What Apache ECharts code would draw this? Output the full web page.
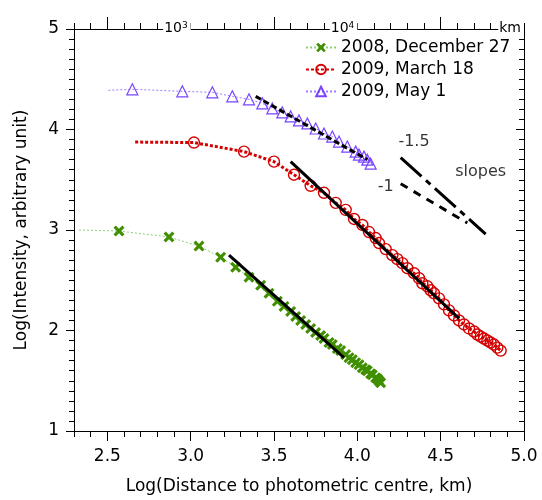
<!DOCTYPE html>
<html>
<head>
<meta charset="utf-8">
<script src="https://cdn.jsdelivr.net/npm/echarts@6/dist/echarts.min.js"></script>
<style>
html, body { margin: 0; padding: 0; background: #fff; }
#chart { width: 542px; height: 500px; }
</style>
</head>
<body>
<div id="chart"></div>
<script>
// series names
const names = ['2008, December 27', '2009, March 18', '2009, May 1'];

// 2008, December 27 (green crosses)
const dec27Lead = [2.33, 3.0];
const dec27X = [2.57, 2.87, 3.05, 3.18, 3.27, 3.35, 3.42, 3.47, 3.52, 3.56, 3.60, 3.63, 3.66, 3.69, 3.72, 3.75, 3.78, 3.80, 3.83, 3.85, 3.88, 3.90, 3.93, 3.95, 3.97, 3.99, 4.01, 4.03, 4.05, 4.06, 4.08, 4.09, 4.11, 4.12, 4.13, 4.14];
const dec27Y = [2.99, 2.93, 2.84, 2.73, 2.63, 2.53, 2.45, 2.37, 2.29, 2.24, 2.19, 2.14, 2.10, 2.06, 2.02, 1.98, 1.95, 1.92, 1.88, 1.86, 1.82, 1.80, 1.76, 1.73, 1.71, 1.68, 1.66, 1.63, 1.61, 1.60, 1.57, 1.56, 1.53, 1.52, 1.50, 1.48];

// 2009, March 18 (red circles)
const mar18Lead = [2.667, 3.875];
const mar18X = [3.02, 3.32, 3.50, 3.62, 3.72, 3.80, 3.87, 3.93, 3.98, 4.03, 4.07, 4.11, 4.13, 4.17, 4.21, 4.24, 4.27, 4.30, 4.34, 4.37, 4.39, 4.42, 4.44, 4.46, 4.49, 4.52, 4.55, 4.58, 4.61, 4.64, 4.67, 4.70, 4.72, 4.74, 4.76, 4.78, 4.80, 4.82, 4.84, 4.86];
const mar18Y = [3.87, 3.78, 3.68, 3.55, 3.44, 3.37, 3.27, 3.20, 3.11, 3.05, 2.98, 2.92, 2.87, 2.81, 2.75, 2.71, 2.67, 2.62, 2.57, 2.52, 2.47, 2.44, 2.40, 2.37, 2.32, 2.26, 2.20, 2.15, 2.10, 2.06, 2.02, 1.99, 1.96, 1.94, 1.92, 1.90, 1.88, 1.86, 1.83, 1.80];

// 2009, May 1 (purple triangles)
const may1Lead = [2.506, 4.39];
const may1X = [2.65, 2.95, 3.13, 3.25, 3.35, 3.43, 3.49, 3.55, 3.60, 3.65, 3.70, 3.75, 3.80, 3.85, 3.89, 3.94, 3.99, 4.01, 4.04, 4.06, 4.08];
const may1Y = [4.40, 4.38, 4.37, 4.33, 4.30, 4.26, 4.21, 4.17, 4.13, 4.09, 4.06, 4.01, 3.96, 3.93, 3.88, 3.83, 3.78, 3.75, 3.73, 3.70, 3.66];

// fitted slopes (black lines)
const fitDec27X = [3.23, 3.92], fitDec27Y = [2.75, 1.73];
const fitMar18X = [3.60, 4.61], fitMar18Y = [3.68, 2.12];
const fitMay1X = [3.39, 4.06], fitMay1Y = [4.33, 3.70];
const slope15X = [4.26, 4.77], slope15Y = [3.72, 2.96];
const slope1X = [4.26, 4.66], slope1Y = [3.46, 3.07];

// slope annotations
const noteText = ['-1.5', '-1', 'slopes'];
const noteX = [4.34, 4.17, 4.74];
const noteY = [3.88, 3.43, 3.58];

// tick labels
const xTicks = [2.5, 3.0, 3.5, 4.0, 4.5, 5.0];
const topMajor = [2.5, 3.5, 4.5];
const topLabelAt = [3, 4, 5];
const topLabelText = ['10{s|3}', '10{s|4}', 'km'];

const font = 'DejaVu Sans';
const zip = (xs, ys) => xs.map((x, i) => [x, ys[i]]);
const withLead = (lead, xs, ys) => [{ value: lead, symbol: 'none' }].concat(zip(xs, ys));
const crossPath = 'path://M2,0 L5,3 L8,0 L10,2 L7,5 L10,8 L8,10 L5,7 L2,10 L0,8 L3,5 L0,2 Z';

const fitLine = (xs, ys, type) => ({
    type: 'line',
    data: zip(xs, ys),
    symbol: 'none',
    z: 5,
    lineStyle: { color: '#000', width: 3, type: type },
    emphasis: { disabled: true },
    silent: true
});

const chart = echarts.init(document.getElementById('chart'));
const option = {
    animation: false,
    backgroundColor: '#fff',
    textStyle: { fontFamily: font },
    grid: { left: 74, right: 18, top: 29, bottom: 67 },
    legend: {
        data: names,
        orient: 'vertical',
        left: 300,
        top: 33,
        itemWidth: 30,
        itemHeight: 12,
        itemGap: 3,
        textStyle: { fontSize: 17, color: '#000', fontFamily: font, lineHeight: 19 }
    },
    xAxis: [
        {
            type: 'value', min: 2.3, max: 5, position: 'bottom', z: 3,
            axisLine: { show: true, onZero: false, lineStyle: { color: '#000', width: 1 } },
            axisTick: { show: true, length: 10, customValues: xTicks, lineStyle: { color: '#000' } },
            axisLabel: { customValues: xTicks, formatter: v => v.toFixed(1), fontSize: 17, color: '#000', margin: 17, fontFamily: font },
            splitLine: { show: false },
            name: 'Log(Distance to photometric centre, km)',
            nameLocation: 'middle',
            nameGap: 47,
            nameTextStyle: { fontSize: 17, color: '#000', fontFamily: font }
        },
        {
            type: 'value', min: 2.3, max: 5, interval: 0.1, position: 'bottom', z: 2,
            axisLine: { show: false, onZero: false },
            axisTick: { show: true, length: 6, lineStyle: { color: '#000' } },
            axisLabel: { show: false },
            splitLine: { show: false }
        },
        {
            type: 'value', min: 2.3, max: 5, interval: 0.1, position: 'top', z: 2,
            axisLine: { show: true, onZero: false, lineStyle: { color: '#000', width: 1 } },
            axisTick: { show: true, length: 6, lineStyle: { color: '#000' } },
            axisLabel: { show: false },
            splitLine: { show: false }
        },
        {
            type: 'value', min: 2.3, max: 5, position: 'top', z: 4,
            axisLine: { show: true, onZero: false, lineStyle: { color: '#000', width: 1 } },
            axisTick: { show: true, length: 12, customValues: topMajor, lineStyle: { color: '#000', width: 1 } },
            axisLabel: {
                customValues: topLabelAt,
                formatter: v => topLabelText[topLabelAt.indexOf(Math.round(v))],
                fontSize: 14, color: '#000', fontFamily: font,
                align: 'right', verticalAlign: 'middle', margin: 1,
                backgroundColor: '#fff', padding: [0, 3, 0, 1],
                rich: { s: { fontSize: 9, verticalAlign: 'top', color: '#000', fontFamily: font } }
            },
            splitLine: { show: false }
        }
    ],
    yAxis: [
        {
            type: 'value', min: 1, max: 5, interval: 1, position: 'left',
            axisLine: { show: true, onZero: false, lineStyle: { color: '#000', width: 1 } },
            axisTick: { show: true, length: 8, lineStyle: { color: '#000' } },
            minorTick: { show: true, splitNumber: 10, length: 5, lineStyle: { color: '#000' } },
            axisLabel: { fontSize: 17, color: '#000', margin: 15, fontFamily: font },
            splitLine: { show: false },
            name: 'Log(Intensity, arbitrary unit)',
            nameLocation: 'middle',
            nameGap: 44,
            nameTextStyle: { fontSize: 17, color: '#000', fontFamily: font }
        },
        {
            type: 'value', min: 1, max: 5, interval: 1, position: 'right',
            axisLine: { show: true, onZero: false, lineStyle: { color: '#000', width: 1 } },
            axisTick: { show: true, inside: true, length: 8, lineStyle: { color: '#000' } },
            minorTick: { show: true, splitNumber: 10, length: 5, lineStyle: { color: '#000' } },
            axisLabel: { show: false },
            splitLine: { show: false }
        }
    ],
    series: [
        {
            name: names[0], type: 'line', z: 3,
            data: withLead(dec27Lead, dec27X, dec27Y),
            symbol: crossPath, symbolSize: 11,
            itemStyle: { color: '#3f8f00' },
            lineStyle: { color: '#8ccf78', width: 1, type: [2, 2] },
            emphasis: { disabled: true }
        },
        {
            name: names[1], type: 'line', z: 3,
            data: withLead(mar18Lead, mar18X, mar18Y),
            symbol: 'circle', symbolSize: 11,
            itemStyle: { color: 'rgba(255,255,255,0)', borderColor: '#d40000', borderWidth: 1.4 },
            lineStyle: { color: '#d40000', width: 3, type: [3, 2] },
            emphasis: { disabled: true }
        },
        {
            name: names[2], type: 'line', z: 3,
            data: withLead(may1Lead, may1X, may1Y),
            symbol: 'triangle', symbolSize: 11,
            itemStyle: { color: 'rgba(255,255,255,0)', borderColor: '#7844ff', borderWidth: 1.2 },
            lineStyle: { color: '#a07cff', width: 1, type: [2, 2] },
            emphasis: { disabled: true }
        },
        fitLine(fitDec27X, fitDec27Y, 'solid'),
        fitLine(fitMar18X, fitMar18Y, 'solid'),
        fitLine(fitMay1X, fitMay1Y, [6, 3]),
        fitLine(slope15X, slope15Y, [28, 6, 6, 6]),
        fitLine(slope1X, slope1Y, [8, 7]),
        {
            type: 'scatter',
            data: noteX.map((x, i) => [x, noteY[i], noteText[i]]),
            symbolSize: 1,
            itemStyle: { color: 'rgba(0,0,0,0)' },
            silent: true,
            label: {
                show: true, position: 'inside', formatter: p => p.data[2],
                fontSize: 16, color: '#000', fontFamily: font
            }
        }
    ]
};
chart.setOption(option);
</script>
</body>
</html>
